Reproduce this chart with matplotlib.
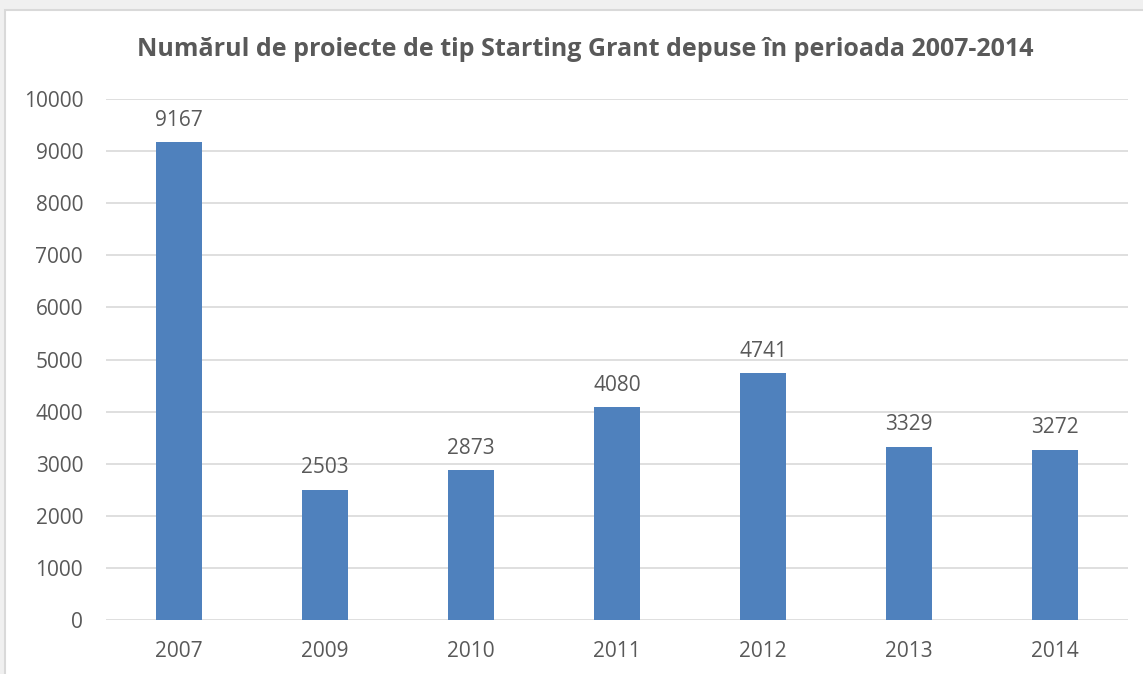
import matplotlib
matplotlib.use('Agg')
import matplotlib.pyplot as plt
from matplotlib.patches import Rectangle

years = ['2007', '2009', '2010', '2011', '2012', '2013', '2014']
projects = [9167, 2503, 2873, 4080, 4741, 3329, 3272]
yticks = [0, 1000, 2000, 3000, 4000, 5000, 6000, 7000, 8000, 9000, 10000]

TEXT = '#595959'
BAR = '#4f81bd'
GRID = '#d9d9d9'

plt.rcParams['font.family'] = ['Open Sans', 'DejaVu Sans']

fig = plt.figure(figsize=(11.43, 6.74), dpi=100)
fig.patch.set_facecolor('#f0f0f0')
# white chart area with thin border
fig.patches.append(Rectangle((5 / 1143, -0.01), 1.02, (674 - 10) / 674 + 0.01,
                             transform=fig.transFigure, facecolor='white',
                             edgecolor='#d9d9d9', linewidth=1.5, zorder=-5))

ax = fig.add_axes([106 / 1143, 54 / 674, 1022 / 1143, 521 / 674])
ax.set_zorder(2)
ax.set_facecolor('none')
x = range(len(years))
bars = ax.bar(x, projects, width=0.315, color=BAR, zorder=3)
for xi, v in zip(x, projects):
    ax.annotate(str(v), (xi, v), xytext=(0, 8), textcoords='offset points',
                ha='center', va='bottom', fontsize=15, color=TEXT)

ax.set_xlim(-0.5, len(years) - 0.5)
ax.set_ylim(0, 10000)
ax.set_yticks(yticks)
ax.set_xticks(list(x))
ax.set_xticklabels(years)
ax.tick_params(axis='both', length=0, labelsize=15, labelcolor=TEXT)
ax.tick_params(axis='y', pad=16.5)
ax.tick_params(axis='x', pad=15)
ax.yaxis.grid(True, color=GRID, linewidth=1.2, zorder=0)
ax.set_axisbelow(True)
for s in ax.spines.values():
    s.set_visible(False)

fig.text(585 / 1143, 1 - 50 / 674,
         'Numărul de proiecte de tip Starting Grant depuse în perioada 2007-2014',
         ha='center', va='center', fontsize=18, fontweight='bold', color=TEXT)

fig.savefig('out.png', dpi=100)
